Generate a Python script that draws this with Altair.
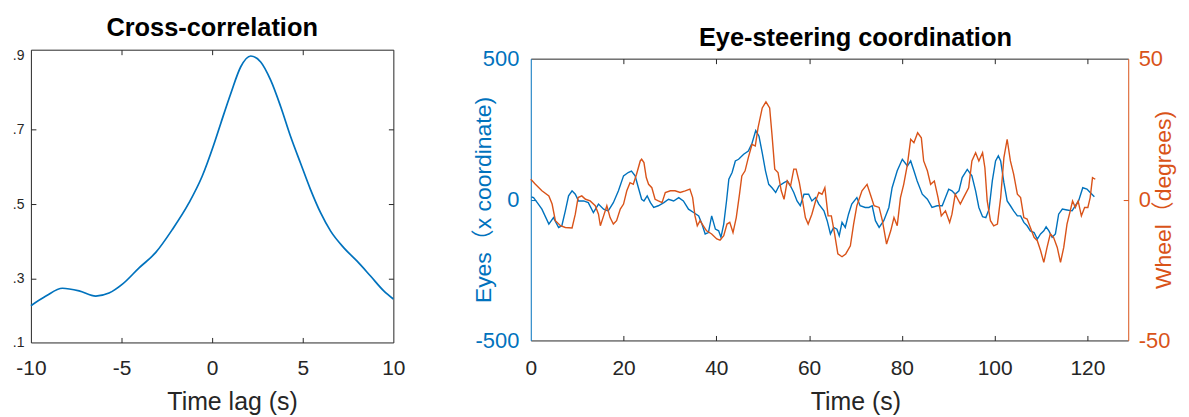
import altair as alt
import pandas as pd

# ---------------- data ----------------
lag_s = [-10, -9.17, -8.26, -7.34, -6.42, -5.69, -4.95, -4.03, -3.12, -2.2,
         -1.28, -0.55, 0.09, 0.48, 1.03, 1.58, 2.13, 2.68, 3.23, 3.78,
         4.33, 4.88, 5.43, 5.99, 6.54, 7.27, 8.0, 8.74, 9.47, 10]
xcorr = [0.226, 0.252, 0.273, 0.266, 0.252, 0.260, 0.284, 0.328, 0.369, 0.431,
         0.503, 0.575, 0.66, 0.718, 0.798, 0.870, 0.899, 0.883, 0.834, 0.763,
         0.682, 0.610, 0.539, 0.476, 0.427, 0.382, 0.346, 0.306, 0.266, 0.244]

eye_t = [0.15, 0.6, 1.4, 2.4, 3.9, 4.9, 6.0, 6.7, 7.45, 8.15,
         8.9, 9.6, 10.3, 11.4, 12.4, 13.5, 14.6, 15.7, 16.7, 17.8,
         18.9, 20.0, 21.0, 21.7, 22.5, 23.2, 23.9, 24.4, 25.1, 25.8,
         26.5, 27.5, 28.7, 29.7, 30.8, 31.9, 32.9, 34.0, 35.1, 36.2,
         36.9, 37.6, 38.3, 39.0, 39.8, 40.5, 41.0, 41.6, 42.2, 42.7,
         43.4, 44.1, 44.8, 45.9, 46.9, 47.7, 48.5, 49.2, 49.9, 50.6,
         51.3, 52.0, 52.8, 53.5, 54.6, 55.3, 56.0, 56.7, 57.4, 58.1,
         58.9, 59.9, 60.6, 61.4, 62.1, 63.2, 63.9, 64.6, 65.3, 66.0,
         66.5, 67.1, 67.8, 68.5, 69.2, 70.3, 71.0, 72.1, 72.9, 73.6,
         74.3, 75.1, 76.1, 77.2, 77.9, 79.0, 80.1, 81.2, 81.9, 82.6,
         83.3, 84.4, 85.5, 86.5, 87.6, 88.7, 89.4, 90.1, 90.8, 91.5,
         92.3, 93.0, 94.1, 95.1, 95.9, 96.6, 97.4, 98.1, 98.8, 99.5,
         100.2, 100.8, 101.3, 102.0, 102.7, 103.4, 104.1, 104.9, 105.6, 106.3,
         107.0, 107.7, 108.5, 109.2, 109.9, 110.6, 111.1, 111.7, 112.4, 113.1,
         113.8, 114.6, 115.6, 116.7, 117.4, 118.1, 119.0, 119.9, 120.6, 121.5]
eye_x = [9, 7, -11, -34, -87, -64, -99, -93, -40, 13,
         31, 19, -5, -5, -11, -46, -16, -34, -40, -11,
         31, 84, 96, 101, 84, 42, 1, -5, 13, -11,
         -28, -22, -11, 1, -5, 7, -5, -34, -46, -58,
         -87, -122, -117, -58, -105, -111, -134, -87, -5, 72,
         96, 137, 143, 161, 172, 200, 245, 225, 166, 102,
         54, 42, 25, 48, 60, 66, 48, 25, -5, -22,
         19, 19, -5, 7, -16, -40, -75, -122, -99, -105,
         -128, -81, -99, -52, -16, 7, -22, -28, -28, -22,
         -75, -99, -75, -28, 42, 102, 143, 119, 137, 102,
         66, 19, 1, -28, -22, -22, 7, 37, 31, 19,
         31, 78, 107, 84, 31, -28, -61, -64, -34, 66,
         137, 155, 137, 60, -5, -22, -40, -58, -58, -81,
         -93, -111, -117, -140, -122, -111, -97, -111, -134, -122,
         -52, -34, -37, -40, -22, -5, 42, 37, 25, 10]

wheel_t = [0, 1.0, 2.4, 3.9, 4.6, 5.3, 6.4, 7.45, 8.9, 9.6,
           10.2, 11.0, 11.8, 12.8, 13.9, 14.6, 15.0, 15.7, 16.4, 17.1,
           17.8, 18.5, 19.3, 20.0, 20.7, 21.4, 22.1, 22.8, 23.6, 23.9,
           24.4, 24.9, 25.4, 26.1, 26.8, 27.5, 28.3, 29.0, 30.1, 31.1,
           32.2, 33.3, 34.3, 34.9, 35.4, 35.9, 36.5, 37.2, 37.9, 39.0,
           40.1, 40.8, 41.6, 42.3, 42.9, 43.6, 44.3, 45.0, 45.5, 46.2,
           46.9, 47.7, 48.4, 49.0, 49.9, 50.7, 51.5, 52.0, 52.6, 53.3,
           54.0, 54.6, 55.3, 56.0, 56.7, 57.2, 57.9, 58.6, 59.2, 59.8,
           60.6, 61.4, 62.1, 62.8, 63.4, 64.1, 64.8, 65.5, 66.2, 67.1,
           67.9, 68.9, 69.6, 70.3, 71.4, 72.5, 73.2, 74.0, 75.1, 75.8,
           76.7, 77.6, 78.3, 79.0, 79.7, 80.4, 81.2, 81.9, 82.6, 83.4,
           84.2, 84.7, 85.5, 86.2, 87.0, 87.8, 88.5, 89.4, 90.3, 90.8,
           91.5, 92.6, 93.3, 94.4, 95.1, 95.9, 96.6, 97.4, 97.9, 98.4,
           99.1, 99.8, 100.6, 101.3, 102.0, 102.7, 103.4, 104.1, 104.9, 105.6,
           106.3, 107.0, 107.7, 108.5, 109.2, 109.9, 110.6, 111.3, 112.0, 112.7,
           113.5, 114.2, 114.9, 115.6, 116.3, 116.8, 117.4, 118.0, 118.7, 119.4,
           120.1, 120.6, 121.1, 121.7]
wheel_deg = [7.2, 5.4, 3.1, 1.3, -1.6, -7.5, -9.3, -9.9, -10.1, -5.2,
             0.7, 1.3, 0.1, -0.5, -2.2, -5.2, -9.3, -5.8, -2.2, -6.4,
             -8.7, -7.5, -3.4, -1.6, 3.1, 6.0, 5.4, 9.0, 13.7, 14.3,
             13.1, 7.8, 5.4, 4.2, 0.1, -0.5, -1.1, 2.5, 3.1, 3.1,
             2.5, 3.1, 3.7, 0.7, -5.8, -9.3, -7.5, -9.3, -11.1, -12.2,
             -14.0, -14.4, -12.8, -8.7, -8.1, -11.7, -6.4, 1.9, 8.4, 10.2,
             14.9, 19.6, 19.0, 25.5, 32.5, 34.7, 32.5, 23.1, 10.8, 9.6,
             3.1, 0.1, 6.6, 4.8, 10.8, 10.8, 6.0, -0.5, -6.4, -8.7,
             -5.2, -0.5, 2.5, 1.9, 4.2, -5.8, -5.8, -12.2, -19.3, -20.3,
             -19.3, -16.4, -8.7, -2.2, 3.1, 5.4, 1.9, -2.2, -2.8, -7.5,
             -15.8, -11.1, -6.4, -9.3, 0.7, 5.4, 12.5, 21.4, 20.2, 23.7,
             21.9, 13.7, 10.2, 5.4, 6.6, 0.7, -5.8, -4.0, -8.1, -5.2,
             1.9, -1.6, 0.7, 4.2, 13.7, 16.6, 13.7, 16.6, 11.3, -0.5,
             -7.5, -9.3, -8.7, 0.7, 14.9, 21.4, 13.7, 9.0, 1.9, 0.7,
             -6.4, -6.9, -9.9, -13.4, -14.6, -18.1, -22.3, -17.0, -12.2, -13.4,
             -17.0, -22.3, -17.0, -8.7, -4.0, -0.5, -2.8, -0.5, -5.8, -2.8,
             -2.8, 0.7, 7.8, 7.2]

lag_ticks = [-10, -5, 0, 5, 10]
r_ticks = [0.127, 0.3, 0.5, 0.7, 0.9]
time_ticks = [0, 20, 40, 60, 80, 100, 120]
eye_ticks = [-500, 0, 500]
wheel_ticks = [-50, 0, 50]

xc_df = pd.DataFrame({"lag": lag_s, "r": xcorr})
eye_df = pd.DataFrame({"t": eye_t, "v": eye_x})
wh_df = pd.DataFrame({"t": wheel_t, "v": wheel_deg})

# ---------------- style ----------------
FONT = "Liberation Sans, Noto Sans CJK SC, sans-serif"
BLUE = "#0072BD"
ORANGE = "#D95319"
INK = "#262626"
WL, H = 364, 294          # left plot; both panels share the group height
WR = 600
R_TOP, R_BOT = 9, 292     # right plot frame inside the shared group height
HYPHEN = "replace(datum.label, '\u2212', '-')"


def tick_axis(orient, offset, values, color=INK, domain=False):
    return alt.Axis(orient=orient, offset=offset, values=values, labels=False,
                    ticks=True, tickSize=5, tickColor=color, tickWidth=1,
                    domain=domain, domainColor=INK, domainWidth=1,
                    grid=False, title=None)


# ---------------- left panel ----------------
xs_L = alt.Scale(domain=[-10, 10], nice=False)
ys_L = alt.Scale(domain=[0.127, 0.916], nice=False, zero=False)

lA = alt.Chart(xc_df).mark_line(color=BLUE, strokeWidth=1.7, interpolate="monotone").encode(
    x=alt.X("lag:Q", scale=xs_L, axis=alt.Axis(
        orient="bottom", values=lag_ticks, labelExpr=HYPHEN, ticks=False, domain=True,
        domainColor=INK, domainWidth=1, labelFontSize=21, labelColor=INK,
        labelPadding=15, labelFlush=False, grid=False, title="Time lag (s)",
        titleFontSize=25, titleFontWeight="normal", titleColor=INK,
        titleX=WL / 2 + 20, titleY=47, titleAlign="center", titleBaseline="top")),
    y=alt.Y("r:Q", scale=ys_L, axis=alt.Axis(
        orient="left", values=r_ticks,
        labelExpr="datum.value < 0.2 ? '.1' : substring(format(datum.value, '.1f'), 1)",
        ticks=False, domain=True, domainColor=INK, domainWidth=1, labelFontSize=14,
        labelColor=INK, labelPadding=7, labelFlush=False, labelOverlap=False,
        grid=False, title=None)),
)
lB = alt.Chart(xc_df).mark_line(opacity=0).encode(
    x=alt.X("lag:Q", scale=xs_L, axis=tick_axis("top", -H, [-5, 0, 5])),
    y=alt.Y("r:Q", scale=ys_L, axis=tick_axis("right", -WL, [0.3, 0.5, 0.7])),
)
lC = alt.Chart(xc_df).mark_line(opacity=0).encode(
    x=alt.X("lag:Q", scale=xs_L, axis=tick_axis("bottom", -H, [-5, 0, 5], domain=True)),
    y=alt.Y("r:Q", scale=ys_L, axis=tick_axis("left", -WL, [0.3, 0.5, 0.7], domain=True)),
)
left = alt.layer(lA, lB, lC).resolve_axis(x="independent", y="independent").properties(
    width=WL, height=H,
    title=alt.TitleParams("Cross-correlation", fontSize=25.5, fontWeight="bold",
                          color="#000000", offset=7, anchor="middle", frame="group"),
)

# ---------------- right panel ----------------
xs_R = alt.Scale(domain=[0, 128.8], nice=False)
ye = alt.Scale(domain=[-500, 500], range=[R_BOT, R_TOP], nice=False)
yw = alt.Scale(domain=[-50, 50], range=[R_BOT, R_TOP], nice=False)

r1 = alt.Chart(eye_df).mark_line(color=BLUE, strokeWidth=1.4).encode(
    x=alt.X("t:Q", scale=xs_R, axis=alt.Axis(
        orient="bottom", offset=R_BOT - H, values=time_ticks, ticks=False, domain=True,
        domainColor=INK, domainWidth=1, labelFontSize=21, labelColor=INK,
        labelPadding=17, labelFlush=False, grid=False, title="Time (s)",
        titleFontSize=25, titleFontWeight="normal", titleColor=INK,
        titleX=WR / 2 + 26, titleY=49, titleAlign="center", titleBaseline="top")),
    y=alt.Y("v:Q", scale=ye, axis=alt.Axis(
        orient="left", values=eye_ticks, labelExpr=HYPHEN, ticks=False, domain=True,
        domainColor=BLUE, domainWidth=1, labelFontSize=22, labelColor=BLUE,
        labelPadding=12, labelFlush=False, grid=False, title="Eyes（x coordinate)",
        titleColor=BLUE, titleFontSize=23, titleFontWeight="normal", titleX=-47,
        titleY=(R_TOP + R_BOT) / 2, titleAngle=270, titleAlign="center",
        titleBaseline="middle")),
)
r2 = alt.Chart(wh_df).mark_line(color=ORANGE, strokeWidth=1.4).encode(
    x=alt.X("t:Q", scale=xs_R, axis=tick_axis("top", -R_BOT, time_ticks[1:])),
    y=alt.Y("v:Q", scale=yw, axis=alt.Axis(
        orient="right", values=wheel_ticks, labelExpr=HYPHEN, ticks=False, domain=True,
        domainColor=ORANGE, domainWidth=1, labelFontSize=22, labelColor=ORANGE,
        labelPadding=10, labelFlush=False, grid=False, title="Wheel（degrees)",
        titleColor=ORANGE, titleFontSize=23, titleFontWeight="normal", titleX=35,
        titleY=(R_TOP + R_BOT) / 2, titleAngle=270, titleAlign="center",
        titleBaseline="middle")),
)
r3 = alt.Chart(eye_df).mark_line(opacity=0).encode(
    x=alt.X("t:Q", scale=xs_R, axis=tick_axis("bottom", R_TOP - H, time_ticks[1:], domain=True)),
    y=alt.Y("v:Q", scale=ye, axis=tick_axis("right", -WR, [0], color=BLUE)),
)
r4 = alt.Chart(wh_df).mark_line(opacity=0).encode(
    x=alt.X("t:Q", scale=xs_R, axis=None),
    y=alt.Y("v:Q", scale=yw, axis=tick_axis("left", -WR, [0], color=ORANGE)),
)
right = alt.layer(r1, r2, r3, r4).resolve_scale(y="independent").resolve_axis(
    x="independent", y="independent").properties(
    width=WR, height=H,
    title=alt.TitleParams("Eye-steering coordination", fontSize=25.5, fontWeight="bold",
                          color="#000000", offset=7, dy=11, dx=26,
                          anchor="middle", frame="group"),
)

chart = alt.hconcat(left, right, spacing=66).properties(
    padding={"left": 3, "top": 6, "right": 5, "bottom": 0}
).configure_view(stroke="transparent").configure_axis(
    labelFont=FONT, titleFont=FONT, grid=False
).configure_title(font=FONT)

chart.save("out.html", embed_options={"renderer": "svg", "actions": False})
